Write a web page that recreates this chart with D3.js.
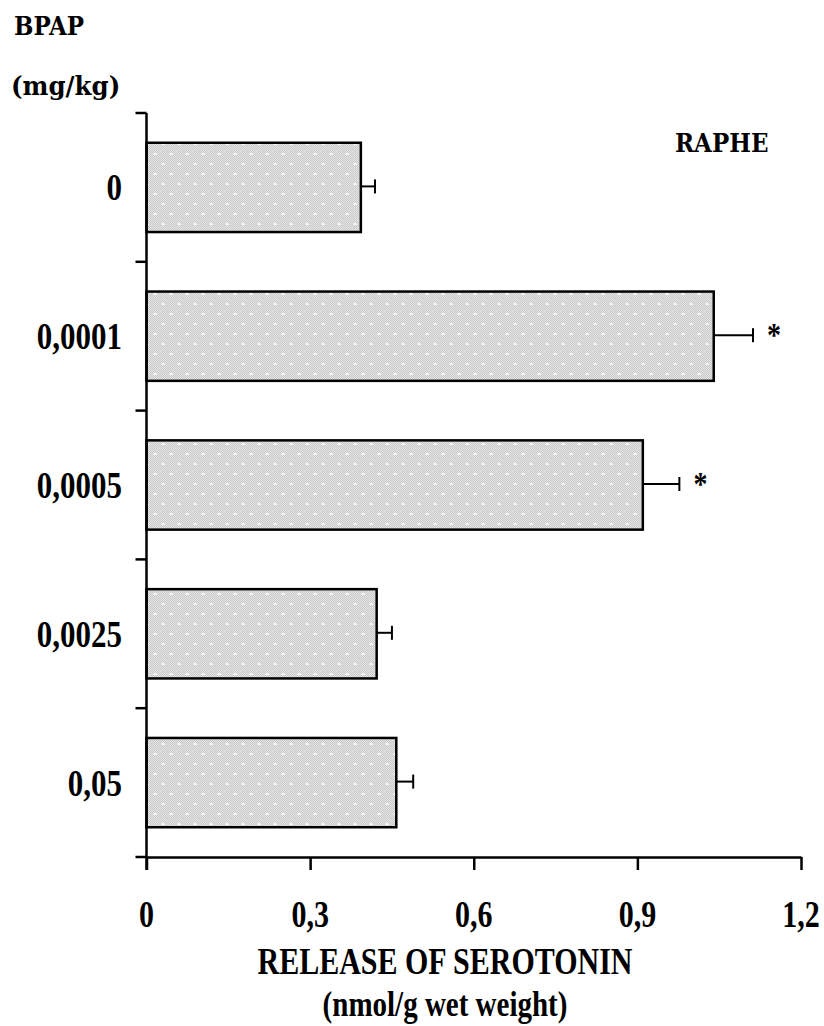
<!DOCTYPE html>
<html>
<head>
<meta charset="utf-8">
<script src="https://cdn.jsdelivr.net/npm/d3@7"></script>
<style>
  body { margin: 0; background: #fff; }
  svg { display: block; }
  .tnr { font-family: "Liberation Serif", "Times New Roman", serif; font-weight: bold; fill: #000; }
  .cmb { font-family: "DejaVu Serif", serif; font-weight: bold; fill: #000; }
</style>
</head>
<body>
<div id="chart"></div>
<script>
// doses (mg/kg) and serotonin release
const doses = ["0", "0,0001", "0,0005", "0,0025", "0,05"];
const release = [0.393, 1.040, 0.910, 0.422, 0.458];
const sem = [0.026, 0.072, 0.067, 0.028, 0.031];
const signif = ["", "*", "*", "", ""];
const xTicks = [0, 0.3, 0.6, 0.9, 1.2];
const xTickLabels = ["0", "0,3", "0,6", "0,9", "1,2"];

const W = 824, H = 1026;
const stretch = 1.24; // the serif text in the figure is tall and narrow

const svg = d3.select("#chart").append("svg")
    .attr("width", W)
    .attr("height", H);

// dotted grey fill of the bars
const defs = svg.append("defs");
const fine = defs.append("pattern")
    .attr("id", "fine")
    .attr("width", 2).attr("height", 2)
    .attr("patternUnits", "userSpaceOnUse");
fine.append("rect").attr("width", 2).attr("height", 2).attr("fill", "#e6e6e6");
fine.append("rect").attr("width", 1).attr("height", 1).attr("fill", "#c8c8c8");
fine.append("rect").attr("x", 1).attr("y", 1).attr("width", 1).attr("height", 1).attr("fill", "#c8c8c8");

const dots = defs.append("pattern")
    .attr("id", "dots")
    .attr("width", 16).attr("height", 20)
    .attr("patternUnits", "userSpaceOnUse");
dots.append("rect").attr("width", 16).attr("height", 20).attr("fill", "url(#fine)");
[[3, 4], [11, 14]].forEach(([cx, cy]) => {
  dots.append("rect").attr("x", cx - 1).attr("y", cy - 1).attr("width", 2).attr("height", 2).attr("fill", "#fff");
  dots.append("rect").attr("x", cx - 2).attr("y", cy).attr("width", 4).attr("height", 1).attr("fill", "#f6f6f6");
});

const x = d3.scaleLinear()
    .domain([0, 1.2])
    .range([146.5, 801]);

const y = d3.scaleBand()
    .domain(doses)
    .range([113, 857])
    .paddingInner(0.4)
    .paddingOuter(0.2);

function stretchedText(sel, px, py) {
  return sel.attr("transform", `translate(${px},${py}) scale(1,${stretch})`);
}

// bars
svg.selectAll(".bar")
    .data(doses)
  .enter().append("rect")
    .attr("class", "bar")
    .attr("x", x(0))
    .attr("y", d => y(d))
    .attr("width", (d, i) => x(release[i]) - x(0))
    .attr("height", y.bandwidth())
    .attr("fill", "url(#dots)")
    .attr("stroke", "#000")
    .attr("stroke-width", 2.5);

// error bars (upper side only)
const err = svg.append("g").attr("stroke", "#000").attr("stroke-width", 2);
doses.forEach((d, i) => {
  const cy = y(d) + y.bandwidth() / 2 - 1;
  const x1 = x(release[i]), x2 = x(release[i] + sem[i]);
  err.append("line").attr("x1", x1).attr("x2", x2).attr("y1", cy).attr("y2", cy);
  err.append("line").attr("x1", x2).attr("x2", x2).attr("y1", cy - 7).attr("y2", cy + 7);
  if (signif[i]) {
    stretchedText(svg.append("text").attr("class", "tnr"), x2 + 21, cy + 11)
        .attr("text-anchor", "middle")
        .style("font-size", "28px")
        .text(signif[i]);
  }
});

// x axis
const xAxis = svg.append("g")
    .attr("transform", `translate(0,${y.range()[1]})`)
    .call(d3.axisBottom(x).tickValues(xTicks).tickSize(13).tickSizeOuter(0).tickFormat(""));
xAxis.selectAll("path, line").attr("stroke", "#000").attr("stroke-width", 2.5);

xTicks.forEach((t, i) => {
  stretchedText(svg.append("text").attr("class", "tnr"), x(t), 927)
      .attr("text-anchor", "middle")
      .style("font-size", "30px")
      .text(xTickLabels[i]);
});

// y axis: line with ticks at the band boundaries
const yAxis = svg.append("g").attr("stroke", "#000").attr("stroke-width", 2.5);
yAxis.append("line")
    .attr("x1", x(0)).attr("x2", x(0))
    .attr("y1", y.range()[0]).attr("y2", y.range()[1] + 13);
const bounds = doses.map(d => y(d) - y.step() * y.paddingOuter()).concat([y.range()[1]]);
bounds.forEach(b => {
  yAxis.append("line").attr("x1", x(0) - 11).attr("x2", x(0)).attr("y1", b).attr("y2", b);
});

doses.forEach(d => {
  stretchedText(svg.append("text").attr("class", "tnr"), 122, y(d) + y.bandwidth() / 2 + 13)
      .attr("text-anchor", "end")
      .style("font-size", "31px")
      .text(d);
});

// titles
stretchedText(svg.append("text").attr("class", "tnr"), 445, 974)
    .attr("text-anchor", "middle")
    .style("font-size", "30px")
    .text("RELEASE OF SEROTONIN");
stretchedText(svg.append("text").attr("class", "tnr"), 445, 1016)
    .attr("text-anchor", "middle")
    .style("font-size", "29px")
    .text("(nmol/g wet weight)");

svg.append("text").attr("class", "cmb")
    .attr("transform", "translate(14,35) scale(1,1.1)")
    .style("font-size", "23px")
    .text("BPAP");
svg.append("text").attr("class", "cmb")
    .attr("transform", "translate(11,95) scale(1,1.05)")
    .style("font-size", "24.5px")
    .text("(mg/kg)");
svg.append("text").attr("class", "cmb")
    .attr("transform", "translate(675,152) scale(1,1.1)")
    .style("font-size", "23px")
    .text("RAPHE");
</script>
</body>
</html>
